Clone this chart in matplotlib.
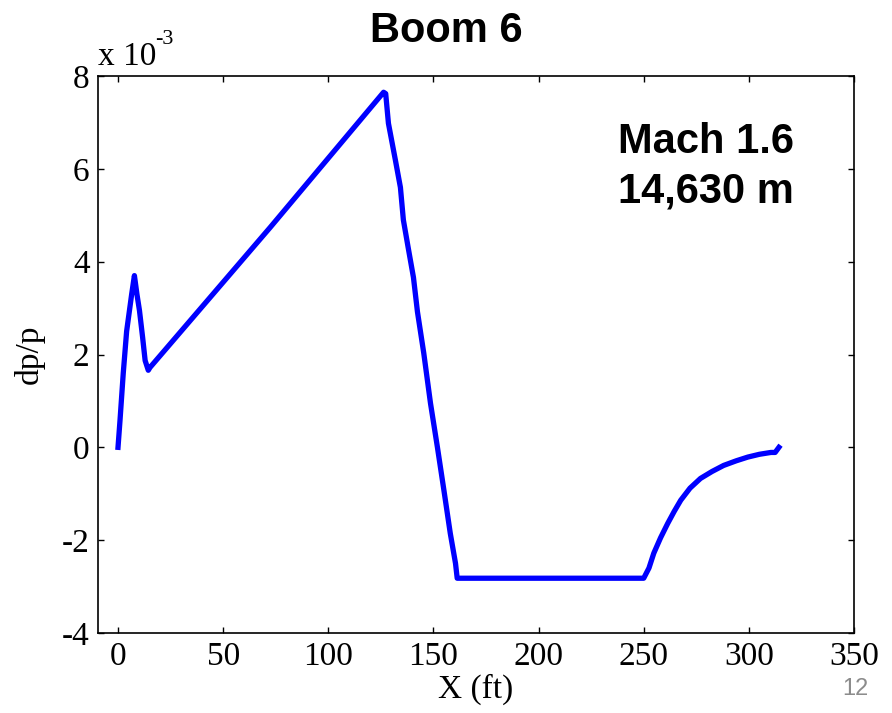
import numpy as np
import matplotlib
matplotlib.use('Agg')
import matplotlib.pyplot as plt

plt.rcParams['axes.unicode_minus'] = False

# dp/p (units of 1e-3) vs X (ft)
x_rise = [0, 0.95, 2.5, 4.1, 6.5, 7.8, 9.0, 10.2, 11.7, 12.9, 14.4]
y_rise = [0, 0.58, 1.6, 2.5, 3.3, 3.7, 3.3, 2.95, 2.37, 1.87, 1.66]

x_ramp = [15.2, 72.4, 126.3, 127.3]
y_ramp = [1.72, 4.74, 7.65, 7.62]

x_drop = [128.6, 131.9, 134.3, 135.7, 138.0, 140.5, 142.4, 145.4, 148.6,
          151.9, 155.0, 158.0, 160.5, 161.3]
y_drop = [6.98, 6.19, 5.6, 4.9, 4.3, 3.66, 2.92, 2.03, 0.95,
          0.0, -0.93, -1.85, -2.5, -2.82]

x_flat = [200.0, 250.0]
y_flat = [-2.82, -2.82]

x_rec = [252.5, 254.8, 258.0, 261.4, 264.5, 267.6, 272.0, 277.0, 282.5,
         288.0, 294.0, 299.5, 305.0, 310.5, 312.5, 314.3]
y_rec = [-2.6, -2.28, -1.95, -1.64, -1.38, -1.14, -0.88, -0.67, -0.52,
         -0.39, -0.29, -0.21, -0.15, -0.11, -0.11, 0.0]

xs = np.array(x_rise + x_ramp + x_drop + x_flat + x_rec)
ys = np.array(y_rise + y_ramp + y_drop + y_flat + y_rec)

x_ticks = [0, 50, 100, 150, 200, 250, 300, 350]
y_ticks = [-4, -2, 0, 2, 4, 6, 8]

fig = plt.figure(figsize=(8.92, 7.13), dpi=100)
ax = fig.add_axes([0.1099, 0.1122, 0.8475, 0.7812])

ax.plot(xs, ys, color='#0000ff', linewidth=3.8, solid_joinstyle='round')

ax.set_xlim(-9.5, 350)
ax.set_ylim(-4, 8)
ax.set_xticks(x_ticks)
ax.set_yticks(y_ticks)
ax.tick_params(direction='in', length=4, width=1, top=True, right=True,
               labelsize=24, pad=6)
for lab in ax.get_xticklabels() + ax.get_yticklabels():
    lab.set_family('Liberation Serif')
for sp in ax.spines.values():
    sp.set_linewidth(1.2)

ax.set_ylabel('dp/p', family='Liberation Serif', fontsize=24, labelpad=12)
fig.text(0.533, 0.021, 'X (ft)', family='Liberation Serif', fontsize=24,
         ha='center', va='baseline')

fig.text(0.5, 0.941, 'Boom 6', family='Liberation Sans', fontsize=30,
         fontweight='bold', ha='center', va='baseline')
fig.text(0.110, 0.909, 'x 10', family='Liberation Serif', fontsize=24,
         ha='left', va='baseline')
fig.text(0.174, 0.938, '-3', family='Liberation Serif', fontsize=16,
         ha='left', va='baseline')

fig.text(0.693, 0.785, 'Mach 1.6', family='Liberation Sans', fontsize=30,
         fontweight='bold', ha='left', va='baseline')
fig.text(0.693, 0.716, '14,630 m', family='Liberation Sans', fontsize=30,
         fontweight='bold', ha='left', va='baseline')

fig.text(0.974, 0.025, '12', family='Liberation Sans', fontsize=17,
         color='#8c8c8c', ha='right', va='baseline')

fig.savefig('out.png', dpi=100)
